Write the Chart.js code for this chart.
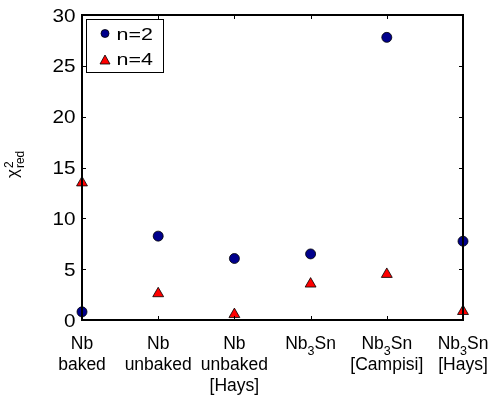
<!DOCTYPE html>
<html>
<head>
<meta charset="utf-8">
<script src="https://cdn.jsdelivr.net/npm/chart.js@4"></script>
<style>
  html, body { margin: 0; padding: 0; background: #fff; }
  #wrap { width: 491px; height: 398px; }
</style>
</head>
<body>
<div id="wrap"><canvas id="myChart" width="491" height="398"></canvas></div>
<script>
/* data */
var samples = ['Nb baked', 'Nb unbaked', 'Nb unbaked [Hays]', 'Nb3Sn', 'Nb3Sn [Campisi]', 'Nb3Sn [Hays]'];
// label lines, "_3" means subscript 3
var sampleLines = [['Nb', 'baked'], ['Nb', 'unbaked'], ['Nb', 'unbaked', '[Hays]'], ['Nb_3Sn'], ['Nb_3Sn', '[Campisi]'], ['Nb_3Sn', '[Hays]']];
var chiN2 = [0.8, 8.25, 6.05, 6.5, 27.8, 7.75];
var chiN4 = [13.5, 2.6, 0.55, 3.55, 4.5, 0.85];
var yTicks = [0, 5, 10, 15, 20, 25, 30];
var seriesNames = ['n=2', 'n=4'];

var FONT = '"Liberation Sans", Arial, Helvetica, sans-serif';
var blue = '#00008c';
var red = '#ff0000';

// text a bit wider than the font gives
function wideText(c, txt, x, y, size, sx, align) {
    c.save();
    c.font = size + 'px ' + FONT;
    var w = c.measureText(txt).width * sx;
    var x0 = align === 'right' ? x - w : x;
    c.translate(x0, y);
    c.scale(sx, 1);
    c.textAlign = 'left';
    c.fillText(txt, 0, 0);
    c.restore();
}

/* box, inward ticks, labels, y title, legend */
var framePlugin = {
    id: 'frame',
    afterDraw: function(chart) {
        var c = chart.ctx;
        var a = chart.chartArea;
        var xs = chart.scales.x, ys = chart.scales.y;
        c.save();
        c.strokeStyle = '#000';

        // ticks
        c.lineWidth = 1;
        c.beginPath();
        yTicks.forEach(function(v) {
            var py = Math.round(ys.getPixelForValue(v)) + 0.5;
            c.moveTo(a.left, py); c.lineTo(a.left + 4, py);
            c.moveTo(a.right, py); c.lineTo(a.right - 4, py);
        });
        for (var i = 0; i < samples.length; i++) {
            var px = Math.round(xs.getPixelForValue(i)) + 0.5;
            c.moveTo(px, a.bottom); c.lineTo(px, a.bottom - 4);
            c.moveTo(px, a.top); c.lineTo(px, a.top + 4);
        }
        c.stroke();

        // box
        c.lineWidth = 2;
        c.strokeRect(a.left, a.top, a.right - a.left, a.bottom - a.top);

        // y tick labels
        c.fillStyle = '#000';
        c.textBaseline = 'middle';
        yTicks.forEach(function(v) {
            wideText(c, String(v), 75.5, ys.getPixelForValue(v) + 1.5, 18.5, 1.12, 'right');
        });

        // x labels
        c.textBaseline = 'alphabetic';
        sampleLines.forEach(function(lines, i) {
            var cx = xs.getPixelForValue(i);
            lines.forEach(function(line, j) {
                var by = 349 + j * 21;
                var parts = line.split('_');
                if (parts.length === 1) {
                    c.font = '17.5px ' + FONT;
                    c.textAlign = 'center';
                    c.fillText(line, cx, by);
                } else {
                    var pre = parts[0];
                    var sub = parts[1].charAt(0);
                    var post = parts[1].slice(1);
                    c.font = '17.5px ' + FONT;
                    var w1 = c.measureText(pre).width;
                    var w3 = c.measureText(post).width;
                    c.font = '12.5px ' + FONT;
                    var w2 = c.measureText(sub).width;
                    var x0 = cx - (w1 + w2 + w3) / 2;
                    c.textAlign = 'left';
                    c.font = '17.5px ' + FONT;
                    c.fillText(pre, x0, by);
                    c.fillText(post, x0 + w1 + w2, by);
                    c.font = '12.5px ' + FONT;
                    c.fillText(sub, x0 + w1, by + 6);
                }
            });
        });

        // y title chi^2_red
        c.save();
        c.translate(18, 178);
        c.rotate(-Math.PI / 2);
        c.textAlign = 'left';
        c.font = '17px ' + FONT;
        c.fillText('\u03c7', 0, 0);
        var wc = c.measureText('\u03c7').width;
        c.font = '12px ' + FONT;
        c.fillText('2', wc + 1, -5);
        c.fillText('red', wc + 1, 6);
        c.restore();

        // legend
        c.fillStyle = '#fff';
        c.fillRect(86, 19, 78, 54);
        c.lineWidth = 1;
        c.strokeRect(86.5, 19.5, 77, 53);
        c.lineWidth = 0.8;
        c.beginPath();
        c.arc(105, 33.5, 4, 0, Math.PI * 2);
        c.fillStyle = blue; c.fill(); c.stroke();
        c.beginPath();
        c.moveTo(105, 55); c.lineTo(110, 64); c.lineTo(100, 64); c.closePath();
        c.fillStyle = red; c.fill(); c.stroke();
        c.fillStyle = '#000';
        wideText(c, seriesNames[0], 116.5, 39.5, 16.5, 1.3, 'left');
        wideText(c, seriesNames[1], 116.5, 64.5, 16.5, 1.3, 'left');

        c.restore();
    }
};

var ctx = document.getElementById('myChart');

var myChart = new Chart(ctx, {
    type: 'line',
    data: {
        labels: samples,
        datasets: [{
            label: seriesNames[0],
            data: chiN2,
            showLine: false,
            pointStyle: 'circle',
            pointRadius: 5,
            pointBackgroundColor: blue,
            pointBorderColor: '#000',
            pointBorderWidth: 0.8,
            clip: false
        }, {
            label: seriesNames[1],
            data: chiN4,
            showLine: false,
            pointStyle: 'triangle',
            pointRadius: 6.3,
            pointBackgroundColor: red,
            pointBorderColor: '#000',
            pointBorderWidth: 0.8,
            clip: false
        }]
    },
    options: {
        responsive: false,
        animation: false,
        events: [],
        layout: { padding: { top: 15, right: 28, left: 0, bottom: 0 } },
        plugins: {
            legend: { display: false },
            tooltip: { enabled: false }
        },
        scales: {
            x: {
                type: 'category',
                offset: false,
                grid: { display: false, drawTicks: false },
                border: { display: false },
                ticks: { display: false },
                afterFit: function(s) { s.height = 78; }
            },
            y: {
                min: 0,
                max: 30,
                grid: { display: false, drawTicks: false },
                border: { display: false },
                afterBuildTicks: function(s) {
                    s.ticks = yTicks.map(function(v) { return { value: v }; });
                },
                ticks: { display: false },
                afterFit: function(s) { s.width = 82; }
            }
        }
    },
    plugins: [framePlugin]
});
</script>
</body>
</html>
